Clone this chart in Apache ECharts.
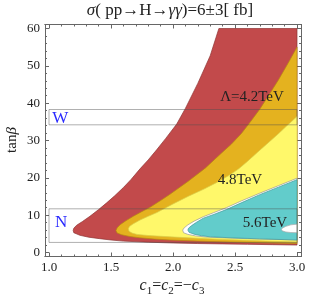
<!DOCTYPE html>
<html><head><meta charset="utf-8">
<script src="https://cdn.jsdelivr.net/npm/echarts@6/dist/echarts.min.js"></script>
<style>html,body{margin:0;padding:0;background:#fff}#c{width:327px;height:294px}</style>
</head><body><div id="c"></div>
<script>
// ---- axes ----
const xTicks = [1.0, 1.5, 2.0, 2.5, 3.0];
const xMinorTicks = [1.1,1.2,1.3,1.4,1.6,1.7,1.8,1.9,2.1,2.2,2.3,2.4,2.6,2.7,2.8,2.9];
const yTicks = [0, 10, 20, 30, 40, 50, 60];
const yMinorTicks = [2,4,6,8,12,14,16,18,22,24,26,28,32,34,36,38,42,44,46,48,52,54,56,58];

// ---- contours [c, tanβ]: upper branch (edge -> nose), lower branch (nose -> edge) ----
const redUpper = [[2.37,60],[2.30,52.7],[2.20,45.3],[2.10,38.6],[2.03,34.4],[1.94,30.5],[1.868,27.5],[1.80,24.8],[1.734,22.4],[1.66,19.5],[1.60,17.4],[1.53,15.2],[1.465,13.3],[1.40,11.5],[1.33,9.7],[1.27,8.3],[1.223,7.3],[1.20,6.5],[1.195,5.9]];
const redLower = [[1.20,5.3],[1.25,4.6],[1.32,4.1],[1.41,3.7],[1.50,3.35],[1.60,3.05],[1.80,2.75],[2.0,2.55],[2.2,2.4],[2.4,2.3],[2.6,2.2],[2.8,2.1],[3.0,2.0]];
const orangeUpper = [[3.0,55.0],[2.93,50.8],[2.85,46.2],[2.77,42.0],[2.70,38.4],[2.62,34.8],[2.55,31.8],[2.47,29.0],[2.39,26.6],[2.26,22.6],[2.12,19.0],[1.976,15.6],[1.90,13.9],[1.815,12.1],[1.74,10.8],[1.68,9.7],[1.62,8.5],[1.573,7.4],[1.55,6.6],[1.54,5.9]];
const orangeLower = [[1.55,5.2],[1.586,4.75],[1.65,4.3],[1.73,3.95],[1.85,3.6],[1.976,3.35],[2.2,3.05],[2.4,2.85],[2.6,2.7],[2.8,2.55],[3.0,2.4]];
const yellowUpper = [[3.0,36.4],[2.92,34.0],[2.85,31.8],[2.755,29.0],[2.68,26.8],[2.60,24.4],[2.53,22.4],[2.45,20.6],[2.35,18.7],[2.25,17.0],[2.12,15.0],[2.0,13.0],[1.92,11.6],[1.87,10.7],[1.80,9.7],[1.734,8.7],[1.68,7.7],[1.65,7.0],[1.64,6.4]];
const yellowLower = [[1.645,5.7],[1.67,5.2],[1.71,4.85],[1.80,4.55],[1.976,4.2],[2.2,3.8],[2.4,3.5],[2.6,3.25],[2.8,3.0],[3.0,2.8]];
const gapUpper = [[3.0,19.9],[2.85,17.9],[2.70,15.9],[2.55,13.8],[2.43,12.0],[2.33,10.7],[2.245,9.6],[2.17,8.4],[2.12,7.4],[2.09,6.6],[2.078,6.0]];
const gapLower = [[2.085,5.3],[2.12,4.85],[2.18,4.45],[2.26,4.15],[2.4,3.95],[2.6,3.7],[3.0,3.35]];
const cyanUpper = [[3.0,19.5],[2.85,17.5],[2.70,15.5],[2.55,13.3],[2.43,11.5],[2.33,10.2],[2.245,9.2],[2.19,8.1],[2.15,7.2],[2.125,6.5],[2.12,6.0]];
const cyanLower = [[2.13,5.4],[2.17,4.9],[2.23,4.5],[2.30,4.2],[2.5,3.9],[2.70,3.65],[3.0,3.35]];
const holeUpper = [[3.0,7.6],[2.95,7.4],[2.91,7.0],[2.88,6.5],[2.875,6.2]];
const holeLower = [[2.88,5.8],[2.91,5.5],[2.95,5.35],[3.0,5.3]];

// ---- annotations ----
const boxes = [ {name:'W', c:[1.0,3.0], t:[34.2,38.3], at:[1.09,35.9]},
                {name:'N', c:[1.0,3.0], t:[2.7,11.7], at:[1.097,7.9]} ];
const regionLabels = [ {text:'Λ=4.2TeV', at:[2.637,41.7]},
                       {text:'4.8TeV', at:[2.54,19.4]},
                       {text:'5.6TeV', at:[2.742,7.9]} ];

const X_MIN = 1 - 4/124, X_MAX = 3 + 4/124, Y_MIN = -4/3.733, Y_MAX = 60 + 4/3.733;
const SERIF = "'Liberation Serif','DejaVu Serif',serif";
const AX = '#666';

function xAxisDef(pos, vals, len, labels) {
  return { type:'value', min:X_MIN, max:X_MAX, position:pos, gridIndex:0,
    axisLine:{show:true, onZero:false, lineStyle:{color:AX, width:1}},
    axisTick:{show:true, inside:true, length:len, customValues:vals, lineStyle:{color:AX, width:1}},
    axisLabel:{show:labels, customValues:vals, formatter:v=>v.toFixed(1), fontFamily:SERIF, fontSize:13, color:'#222', margin:5},
    splitLine:{show:false} };
}
function yAxisDef(pos, vals, len, labels) {
  return { type:'value', min:Y_MIN, max:Y_MAX, position:pos, gridIndex:0,
    axisLine:{show:true, onZero:false, lineStyle:{color:AX, width:1}},
    axisTick:{show:true, inside:true, length:len, customValues:vals, lineStyle:{color:AX, width:1}},
    axisLabel:{show:labels, customValues:vals, formatter:v=>String(v), fontFamily:SERIF, fontSize:13, color:'#222', margin:5},
    splitLine:{show:false} };
}

function regionSeries(upper, lower, fill, stroke) {
  return { type:'custom', xAxisIndex:0, yAxisIndex:0, data:[0], silent:true, clip:true,
    renderItem:(params, api) => {
      const pts = upper.concat(lower);
      if (pts[0][0] < 3.0) pts.unshift([3.0, pts[0][1]]);
      return { type:'polygon', shape:{points: pts.map(p => api.coord(p))},
        style:{fill, stroke, lineWidth:0.7} };
    } };
}

const series = [
  regionSeries(redUpper, redLower, '#C24A4B', '#8e3434'),
  regionSeries(orangeUpper, orangeLower, '#E4B21F', '#b88a10'),
  regionSeries(yellowUpper, yellowLower, '#FFF86A', '#d8cf4a'),
  regionSeries(gapUpper, gapLower, '#ffffff', '#999999'),
  regionSeries(cyanUpper, cyanLower, '#62CCCB', '#3f9a9a'),
  regionSeries(holeUpper, holeLower, '#ffffff', '#aaaaaa'),
  { type:'custom', xAxisIndex:0, yAxisIndex:0, data:boxes.map((b,i)=>i), silent:true, z:5,
    renderItem:(params, api) => {
      const b = boxes[params.dataIndex];
      const p0 = api.coord([b.c[0], b.t[1]]), p1 = api.coord([b.c[1], b.t[0]]);
      const lab = api.coord(b.at);
      return { type:'group', children:[
        { type:'rect', shape:{x:p0[0], y:p0[1], width:p1[0]-p0[0], height:p1[1]-p0[1]},
          style:{fill:'none', stroke:'rgba(80,80,80,0.45)', lineWidth:1} },
        { type:'text', x:lab[0], y:lab[1], style:{text:b.name, fill:'#2a2aff', font:'17px '+SERIF, align:'center', verticalAlign:'middle'} }
      ]};
    } },
  { type:'custom', xAxisIndex:0, yAxisIndex:0, data:regionLabels.map((l,i)=>i), silent:true, z:6,
    renderItem:(params, api) => {
      const l = regionLabels[params.dataIndex];
      const p = api.coord(l.at);
      return { type:'text', x:p[0], y:p[1], style:{text:l.text, fill:'#222', font:'15px '+SERIF, align:'center', verticalAlign:'middle'} };
    } }
];

const chart = echarts.init(document.getElementById('c'), null, {renderer:'canvas'});
chart.setOption({
  animation:false,
  backgroundColor:'#fff',
  grid:{left:45, right:26, top:24.5, bottom:37.5, containLabel:false},
  xAxis:[ xAxisDef('bottom', xTicks, 4, true), xAxisDef('bottom', xMinorTicks, 2, false),
          xAxisDef('top', xTicks, 4, false), xAxisDef('top', xMinorTicks, 2, false) ],
  yAxis:[ yAxisDef('left', yTicks, 4, true), yAxisDef('left', yMinorTicks, 2, false),
          yAxisDef('right', yTicks, 4, false), yAxisDef('right', yMinorTicks, 2, false) ],
  series,
  graphic:[
    { type:'text', x:170, y:11, style:{ text:'{i|σ}{n|( pp→H→}{i|γγ}{n|)=6±3[ fb]}', align:'center', verticalAlign:'middle',
      rich:{ i:{fontFamily:SERIF, fontStyle:'italic', fontSize:17, fill:'#222'}, n:{fontFamily:SERIF, fontSize:17, fill:'#222'} } } },
    { type:'text', x:12, y:140, rotation:Math.PI/2, style:{ text:'{n|tan}{i|β}', align:'center', verticalAlign:'middle',
      rich:{ i:{fontFamily:SERIF, fontStyle:'italic', fontSize:15, fill:'#222'}, n:{fontFamily:SERIF, fontSize:15, fill:'#222'} } } },
    { type:'text', x:172, y:286, style:{ text:'{i|c}{s|1}{n|=}{i|c}{s|2}{n|=−}{i|c}{s|3}', align:'center', verticalAlign:'middle',
      rich:{ i:{fontFamily:SERIF, fontStyle:'italic', fontSize:16, fill:'#222', verticalAlign:'bottom', lineHeight:16},
             n:{fontFamily:SERIF, fontSize:16, fill:'#222', verticalAlign:'bottom', lineHeight:16},
             s:{fontFamily:SERIF, fontSize:11, fill:'#222', verticalAlign:'bottom', lineHeight:10, padding:[0,0,-3,0]} } } }
  ]
});
</script></body></html>
